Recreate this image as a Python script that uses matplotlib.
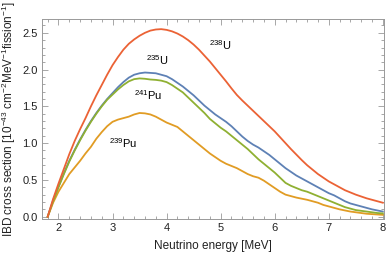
import matplotlib
matplotlib.use("Agg")
import matplotlib.pyplot as plt
from matplotlib.ticker import MultipleLocator, FormatStrFormatter
import numpy as np

plt.rcParams['font.family'] = ['Liberation Sans', 'DejaVu Sans']
plt.rcParams['mathtext.fontset'] = 'custom'
plt.rcParams['mathtext.rm'] = 'Liberation Sans'
plt.rcParams['mathtext.it'] = 'Liberation Sans'

# neutrino energy grid (MeV), 1.8 ... 8.0 in steps of 0.1
energia = np.round(np.arange(1.8, 8.05, 0.1), 1)

u238 = [0.0, 0.24, 0.45, 0.65, 0.85, 1.03, 1.19, 1.34, 1.50, 1.65,
        1.79, 1.93, 2.06, 2.17, 2.27, 2.35, 2.41, 2.46, 2.50, 2.53,
        2.545, 2.55, 2.54, 2.52, 2.49, 2.45, 2.40, 2.34, 2.27, 2.19,
        2.11, 2.02, 1.93, 1.84, 1.745, 1.655, 1.58, 1.51, 1.44, 1.37,
        1.30, 1.23, 1.16, 1.08, 1.00, 0.92, 0.845, 0.77, 0.70, 0.64,
        0.58, 0.53, 0.48, 0.44, 0.40, 0.36, 0.33, 0.30, 0.275, 0.25,
        0.23, 0.21, 0.19]
u235 = [0.0, 0.22, 0.41, 0.59, 0.76, 0.91, 1.05, 1.18, 1.30, 1.41,
        1.51, 1.60, 1.68, 1.76, 1.83, 1.89, 1.93, 1.95, 1.96, 1.955,
        1.95, 1.93, 1.91, 1.87, 1.82, 1.77, 1.71, 1.65, 1.58, 1.51,
        1.45, 1.39, 1.34, 1.29, 1.23, 1.16, 1.09, 1.03, 0.98, 0.94,
        0.89, 0.84, 0.78, 0.72, 0.66, 0.61, 0.56, 0.52, 0.48, 0.44,
        0.40, 0.36, 0.32, 0.29, 0.25, 0.21, 0.18, 0.16, 0.14, 0.12,
        0.10, 0.085, 0.07]
pu241 = [0.0, 0.21, 0.40, 0.58, 0.75, 0.90, 1.04, 1.17, 1.29, 1.40,
         1.50, 1.59, 1.66, 1.73, 1.79, 1.84, 1.87, 1.88, 1.875, 1.865,
         1.86, 1.85, 1.83, 1.79, 1.74, 1.69, 1.62, 1.55, 1.48, 1.41,
         1.33, 1.27, 1.21, 1.16, 1.10, 1.04, 0.98, 0.92, 0.85, 0.78,
         0.72, 0.66, 0.60, 0.53, 0.46, 0.42, 0.39, 0.36, 0.34, 0.31,
         0.28, 0.25, 0.22, 0.19, 0.16, 0.13, 0.11, 0.09, 0.08, 0.07,
         0.06, 0.05, 0.045]
pu239 = [0.0, 0.19, 0.34, 0.46, 0.58, 0.67, 0.76, 0.86, 0.95, 1.06,
         1.15, 1.23, 1.29, 1.32, 1.34, 1.36, 1.39, 1.41, 1.405, 1.39,
         1.36, 1.32, 1.28, 1.25, 1.22, 1.16, 1.10, 1.04, 0.98, 0.92,
         0.86, 0.81, 0.76, 0.72, 0.69, 0.66, 0.62, 0.58, 0.55, 0.53,
         0.49, 0.44, 0.39, 0.34, 0.30, 0.28, 0.26, 0.245, 0.23, 0.21,
         0.19, 0.16, 0.14, 0.12, 0.10, 0.085, 0.07, 0.06, 0.05, 0.04,
         0.035, 0.03, 0.025]

series = [
    (u235, "#5E81B5"),
    (pu239, "#E19C24"),
    (pu241, "#8FB032"),
    (u238, "#EB6235"),
]

# curve labels: (text, x, y)
rotulos = [
    ("$^{238}$U", 5.0, 2.33),
    ("$^{235}$U", 3.82, 2.13),
    ("$^{241}$Pu", 3.66, 1.65),
    ("$^{239}$Pu", 3.20, 1.00),
]

fig = plt.figure(figsize=(3.9, 2.61), dpi=100)
ax = fig.add_axes([0.107, 0.161, 0.878, 0.766])

for valores, cor in series:
    ax.plot(energia, valores, color=cor, lw=1.3, solid_joinstyle='round')

for texto, x, y in rotulos:
    ax.text(x, y, texto, fontsize=8, ha='center', va='center', color='black')

ax.set_xlim(1.69, 8.025)
ax.set_ylim(-0.031, 2.687)
ax.xaxis.set_major_locator(MultipleLocator(1))
ax.xaxis.set_minor_locator(MultipleLocator(0.2))
ax.yaxis.set_major_locator(MultipleLocator(0.5))
ax.yaxis.set_minor_locator(MultipleLocator(0.1))
ax.yaxis.set_major_formatter(FormatStrFormatter('%.1f'))

for s in ax.spines.values():
    s.set_color('#999999')
    s.set_linewidth(0.7)
ax.tick_params(which='both', direction='in', top=True, right=True, colors='#999999',
               labelcolor='#222222', labelsize=8, width=0.6)
ax.tick_params(which='major', length=4, pad=3)
ax.tick_params(which='minor', length=2)

ax.set_xlabel("Neutrino energy [MeV]", fontsize=8.5, labelpad=5, color='#222222')
ax.set_ylabel("IBD cross section [$10^{-43}$ cm$^{-2}$MeV$^{-1}$fission$^{-1}$]",
              fontsize=8.5, labelpad=3, color='#222222')

fig.savefig("out.png", dpi=100)
